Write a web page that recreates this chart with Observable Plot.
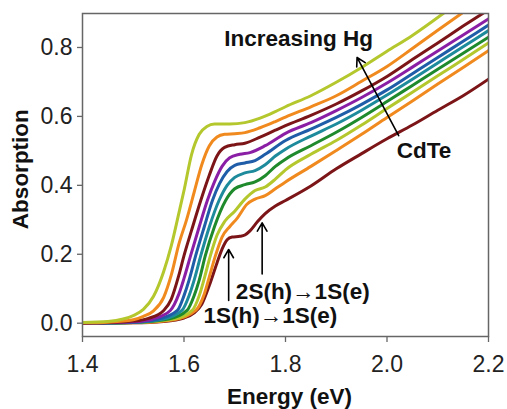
<!DOCTYPE html>
<html>
<head>
<meta charset="utf-8">
<script src="https://cdn.jsdelivr.net/npm/d3@7"></script>
<script src="https://cdn.jsdelivr.net/npm/@observablehq/plot@0.6"></script>
<style>
  html, body { margin: 0; padding: 0; background: #fff; }
  svg { display: block; }
  g[aria-label="x-axis tick label"] text,
  g[aria-label="y-axis tick label"] text { font-size: 23px !important; }
</style>
</head>
<body>
<div id="chart"></div>
<script>
// Absorption spectra of CdTe nanocrystals with increasing Hg content.
// Each series: [energy (eV), absorption]. hg0 = CdTe, hg9 = most Hg.
const hg0 = [[1.40,0.000],[1.50,0.001],[1.56,0.005],[1.60,0.015],[1.62,0.030],[1.635,0.055],[1.65,0.110],[1.665,0.175],[1.675,0.215],[1.685,0.242],[1.695,0.250],[1.71,0.252],[1.72,0.256],[1.73,0.268],[1.745,0.295],[1.76,0.318],[1.78,0.340],[1.80,0.356],[1.85,0.398],[1.90,0.448],[1.95,0.492],[2.00,0.535],[2.05,0.575],[2.10,0.618],[2.15,0.660],[2.20,0.708]];
const hg1 = [[1.40,0.000],[1.50,0.001],[1.58,0.010],[1.623,0.037],[1.64,0.085],[1.65,0.135],[1.662,0.196],[1.675,0.250],[1.69,0.280],[1.705,0.305],[1.724,0.345],[1.74,0.360],[1.76,0.370],[1.78,0.390],[1.80,0.410],[1.85,0.455],[1.90,0.501],[1.95,0.548],[2.00,0.597],[2.05,0.645],[2.10,0.694],[2.15,0.742],[2.20,0.791]];
const hg2 = [[1.40,0.000],[1.50,0.002],[1.58,0.012],[1.616,0.037],[1.63,0.080],[1.64,0.130],[1.652,0.196],[1.665,0.255],[1.68,0.295],[1.70,0.325],[1.72,0.360],[1.74,0.385],[1.76,0.395],[1.78,0.418],[1.80,0.445],[1.85,0.490],[1.90,0.530],[1.95,0.575],[2.00,0.623],[2.05,0.670],[2.10,0.718],[2.15,0.765],[2.20,0.813]];
const hg3 = [[1.40,0.000],[1.50,0.002],[1.57,0.012],[1.606,0.037],[1.62,0.080],[1.63,0.125],[1.642,0.196],[1.66,0.280],[1.682,0.356],[1.70,0.390],[1.72,0.402],[1.74,0.410],[1.76,0.428],[1.78,0.455],[1.80,0.476],[1.85,0.515],[1.90,0.554],[1.95,0.597],[2.00,0.643],[2.05,0.690],[2.10,0.737],[2.15,0.783],[2.20,0.830]];
const hg4 = [[1.40,0.000],[1.50,0.002],[1.56,0.012],[1.596,0.037],[1.61,0.080],[1.62,0.125],[1.633,0.196],[1.65,0.280],[1.669,0.356],[1.685,0.400],[1.70,0.423],[1.72,0.436],[1.74,0.443],[1.76,0.460],[1.78,0.485],[1.80,0.505],[1.85,0.543],[1.90,0.578],[1.95,0.618],[2.00,0.662],[2.05,0.708],[2.10,0.755],[2.15,0.802],[2.20,0.849]];
const hg5 = [[1.40,0.000],[1.50,0.003],[1.55,0.012],[1.587,0.037],[1.60,0.080],[1.61,0.125],[1.623,0.196],[1.64,0.280],[1.656,0.356],[1.67,0.405],[1.685,0.440],[1.70,0.458],[1.72,0.465],[1.74,0.472],[1.76,0.490],[1.80,0.530],[1.85,0.563],[1.90,0.597],[1.95,0.635],[2.00,0.677],[2.05,0.724],[2.10,0.771],[2.15,0.818],[2.20,0.865]];
const hg6 = [[1.40,0.000],[1.50,0.004],[1.54,0.013],[1.573,0.037],[1.59,0.085],[1.60,0.130],[1.613,0.196],[1.63,0.280],[1.646,0.356],[1.66,0.410],[1.675,0.455],[1.69,0.480],[1.71,0.490],[1.73,0.495],[1.76,0.515],[1.80,0.551],[1.85,0.582],[1.90,0.617],[1.95,0.655],[2.00,0.697],[2.05,0.743],[2.10,0.790],[2.15,0.836],[2.20,0.883]];
const hg7 = [[1.40,0.000],[1.45,0.002],[1.50,0.006],[1.53,0.014],[1.56,0.037],[1.575,0.070],[1.59,0.140],[1.60,0.196],[1.615,0.270],[1.633,0.356],[1.65,0.430],[1.665,0.485],[1.68,0.510],[1.70,0.518],[1.72,0.522],[1.75,0.540],[1.78,0.560],[1.80,0.573],[1.85,0.603],[1.90,0.636],[1.95,0.674],[2.00,0.716],[2.05,0.765],[2.10,0.813],[2.15,0.862],[2.19,0.900]];
const hg8 = [[1.40,0.001],[1.45,0.003],[1.50,0.010],[1.52,0.020],[1.54,0.036],[1.56,0.075],[1.575,0.140],[1.59,0.230],[1.605,0.300],[1.62,0.380],[1.635,0.460],[1.65,0.515],[1.665,0.540],[1.68,0.548],[1.70,0.550],[1.72,0.553],[1.75,0.567],[1.78,0.585],[1.80,0.598],[1.85,0.628],[1.90,0.660],[1.95,0.702],[2.00,0.745],[2.05,0.797],[2.10,0.850],[2.148,0.900]];
const hg9 = [[1.40,0.002],[1.45,0.005],[1.48,0.012],[1.50,0.022],[1.52,0.040],[1.54,0.078],[1.56,0.150],[1.575,0.225],[1.59,0.320],[1.60,0.385],[1.615,0.490],[1.63,0.548],[1.645,0.571],[1.66,0.578],[1.69,0.578],[1.72,0.582],[1.75,0.595],[1.78,0.614],[1.80,0.628],[1.85,0.660],[1.90,0.699],[1.95,0.742],[2.00,0.789],[2.05,0.835],[2.112,0.900]];

const seriesData = [hg0, hg1, hg2, hg3, hg4, hg5, hg6, hg7, hg8, hg9];
const seriesColors = ["#7c1517", "#f08a1e", "#b4c72c", "#1e8a2c", "#1d8b9b", "#1f5da8", "#8a1fa5", "#7c1517", "#f08a1e", "#b4c72c"];

const xTicks = [1.4, 1.6, 1.8, 2.0, 2.2];
const yTicks = [0.0, 0.2, 0.4, 0.6, 0.8];

// annotation text: [label, energy, absorption]
const notes = [["Increasing Hg", 1.826, 0.826], ["CdTe", 2.073, 0.500], ["2S(h)\u21921S(e)", 1.834, 0.090], ["1S(h)\u21921S(e)", 1.770, 0.022]];
// arrows: [x1, y1, x2, y2]
const arrows = [[2.023, 0.544, 1.941, 0.771], [1.688, 0.066, 1.688, 0.214], [1.754, 0.143, 1.754, 0.291]];

const rows = seriesData.flatMap((pts, i) => pts.map(([e, a]) => ({e, a, s: i})));

const font = "'Liberation Sans', Arial, Helvetica, sans-serif";

const chart = Plot.plot({
  width: 507,
  height: 409,
  marginLeft: 82,
  marginRight: 19,
  marginTop: 13,
  marginBottom: 73,
  style: {fontFamily: font, fontSize: "23px", color: "#222", background: "#fff"},
  x: {domain: [1.4, 2.2]},
  y: {domain: [-0.0386, 0.8986]},
  marks: [
    Plot.axisX({ticks: xTicks, tickFormat: d3.format(".1f"), tickSize: 6, tickPadding: 13, stroke: "#666", strokeWidth: 1.3, label: null}),
    Plot.axisY({ticks: yTicks, tickFormat: d3.format(".1f"), tickSize: 5, tickPadding: 5, stroke: "#666", strokeWidth: 1.3, label: null}),
    ...seriesData.map((pts, i) => Plot.line(rows.filter(d => d.s === i), {
      x: "e", y: "a", stroke: seriesColors[i], strokeWidth: 3, curve: "monotone-x", clip: true
    })),
    Plot.frame({stroke: "#666", strokeWidth: 1.5}),
    Plot.arrow(arrows, {x1: d => d[0], y1: d => d[1], x2: d => d[2], y2: d => d[3], stroke: "#000", strokeWidth: 1.6, headLength: 9}),
    Plot.text(notes, {x: d => d[1], y: d => d[2], text: d => d[0], fontWeight: "bold", fontSize: 22.5, fill: "#111", textAnchor: "middle", lineAnchor: "middle"}),
    Plot.text(["Energy (eV)"], {x: 1.808, y: -0.213, text: d => d, fontWeight: "bold", fontSize: 22.5, fill: "#111", lineAnchor: "middle"}),
    Plot.text(["Absorption"], {x: 1.4, y: 0.447, dx: -62, rotate: -90, text: d => d, fontWeight: "bold", fontSize: 22.5, fill: "#111", lineAnchor: "middle"})
  ]
});

document.getElementById("chart").appendChild(chart);
</script>
</body>
</html>
